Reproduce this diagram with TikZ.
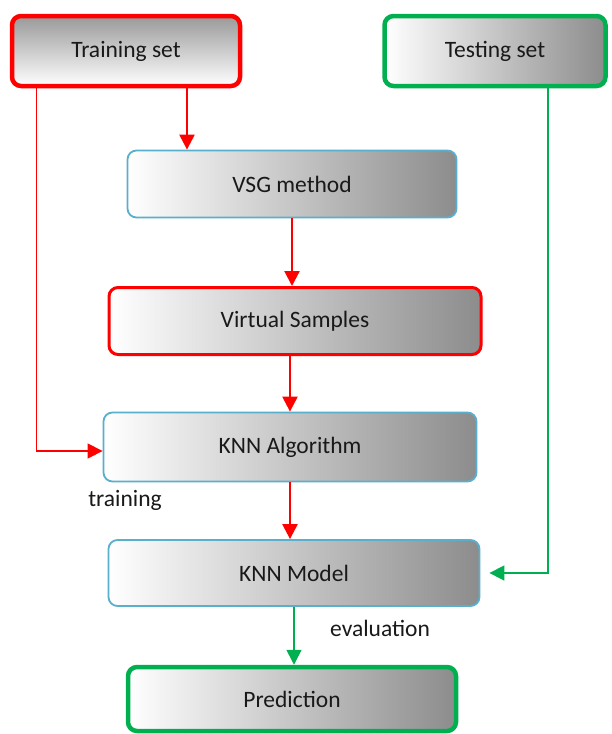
\documentclass[tikz,border=0pt]{standalone}
\usepackage{fontspec}
\setmainfont{Carlito}
\usetikzlibrary{arrows.meta}

\definecolor{boxred}{RGB}{255,0,0}
\definecolor{boxgreen}{RGB}{0,176,80}
\definecolor{boxblue}{RGB}{90,175,205}

\tikzset{
  box/.style={rounded corners=9pt, align=center, font=\fontsize{23.5}{27}\selectfont,
    left color=white, right color=black!45, text=black!90},
  redbox/.style={box, draw=boxred, line width=3pt},
  bluebox/.style={box, draw=boxblue, line width=1.8pt},
  greenbox/.style={box, draw=boxgreen, line width=4.5pt},
  redline/.style={draw=boxred, line width=2.2pt, -{Triangle[length=15pt,width=15pt]}},
  greenline/.style={draw=boxgreen, line width=1.6pt, -{Triangle[length=15pt,width=15pt]}},
  lab/.style={font=\fontsize{23.5}{27}\selectfont, text=black!90}
}

\begin{document}
\begin{tikzpicture}[x=1pt,y=-1pt]
    \useasboundingbox[fill=white] (0,0) rectangle (612,734);

    % inputs
    \node[redbox, line width=4.5pt, top color=black!40, bottom color=white,
      minimum width=228pt, minimum height=70pt] (train) at (126,51) {Training set};
    \node[greenbox, minimum width=221pt, minimum height=70pt] (test) at (495,51) {Testing set};

    % main chain
    \node[bluebox, minimum width=329pt, minimum height=67pt] (vsg) at (292,184) {VSG method};
    \node[redbox, minimum width=372pt, minimum height=67pt] (vs) at (295,321) {Virtual Samples};
    \node[bluebox, minimum width=373pt, minimum height=69pt] (alg) at (290,447) {KNN Algorithm};
    \node[bluebox, minimum width=371pt, minimum height=66pt] (model) at (294,573) {KNN Model};
    \node[greenbox, minimum width=328pt, minimum height=64pt] (pred) at (292,699) {Prediction};

    \node[lab] (trlab) at (125,500) {training};
    \node[lab] (evlab) at (380,628) {evaluation};

    % connectors
    \draw[redline] ([xshift=61pt]train.south) -- ([xshift=61pt]train.south |- vsg.north);
    \draw[redline] (vsg.south) -- (vsg.south |- vs.north);
    \draw[redline] (alg.north |- vs.south) -- (alg.north);
    \draw[redline] (alg.south) -- (alg.south |- model.north);
    \draw[redline, line width=1.3pt] ([xshift=27pt]train.south west) |- ([yshift=-4pt]alg.west);
    \draw[greenline] ([xshift=53pt]test.south) |- ([xshift=9pt]model.east);
    \draw[greenline] (model.south) -- (model.south |- pred.north);
\end{tikzpicture}
\end{document}
